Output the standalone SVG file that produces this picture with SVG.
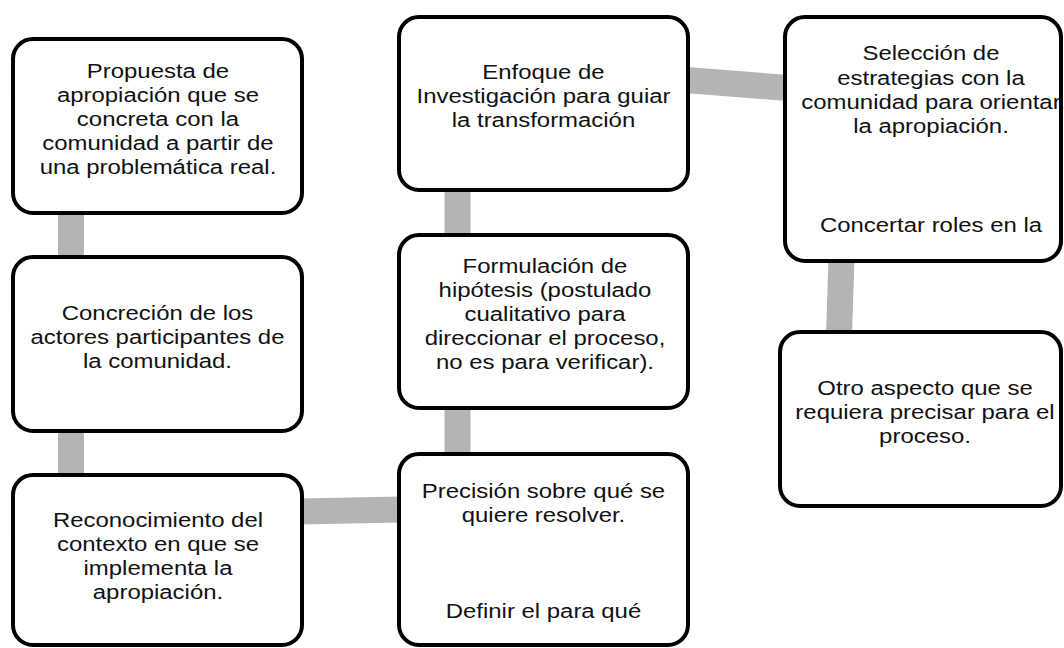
<svg xmlns="http://www.w3.org/2000/svg" width="1064" height="648" viewBox="0 0 1064 648">
<style>
.box{fill:#ffffff;stroke:#000000;stroke-width:4}
.conn{stroke:#b4b4b4;stroke-width:26;fill:none}
text{font-family:"Liberation Sans",Arial,sans-serif;font-size:21px;fill:#111111;text-anchor:middle}
</style>
<rect width="1064" height="648" fill="#ffffff"/>
<g id="connectors">
<line class="conn" x1="71" y1="210" x2="71" y2="260"/>
<line class="conn" x1="71" y1="428" x2="71" y2="478"/>
<line class="conn" x1="300" y1="511.5" x2="401" y2="509.5"/>
<line class="conn" x1="457.5" y1="405" x2="457.5" y2="457"/>
<line class="conn" x1="457.5" y1="187" x2="457.5" y2="238"/>
<line class="conn" x1="686" y1="80" x2="788" y2="88"/>
<line class="conn" x1="841.5" y1="258" x2="839" y2="335"/>
</g>
<g id="n1">
<rect class="box" x="13" y="39" width="289" height="174" rx="20"/>
<g transform="matrix(1.14,0,0,1,-22.12,0)">
<text x="158" y="78">Propuesta de</text>
<text x="158" y="102">apropiación que se</text>
<text x="158" y="126">concreta con la</text>
<text x="158" y="150">comunidad a partir de</text>
<text x="158" y="174">una problemática real.</text>
</g>
</g>
<g id="n2">
<rect class="box" x="13" y="257" width="289" height="174" rx="20"/>
<g transform="matrix(1.14,0,0,1,-22.05,0)">
<text x="157.5" y="320">Concreción de los</text>
<text x="157.5" y="344">actores participantes de</text>
<text x="157.5" y="368">la comunidad.</text>
</g>
</g>
<g id="n3">
<rect class="box" x="13" y="475" width="289" height="170" rx="20"/>
<g transform="matrix(1.14,0,0,1,-22.12,0)">
<text x="158" y="527">Reconocimiento del</text>
<text x="158" y="551">contexto en que se</text>
<text x="158" y="575">implementa la</text>
<text x="158" y="599">apropiación.</text>
</g>
</g>
<g id="n4">
<rect class="box" x="399" y="454" width="289" height="191" rx="20"/>
<g transform="matrix(1.14,0,0,1,-76.09,0)">
<text x="543.5" y="498">Precisión sobre qué se</text>
<text x="543.5" y="522">quiere resolver.</text>
<text x="543.5" y="618">Definir el para qué</text>
</g>
</g>
<g id="n5">
<rect class="box" x="399" y="235" width="289" height="173" rx="20"/>
<g transform="matrix(1.14,0,0,1,-76.3,0)">
<text x="545" y="273">Formulación de</text>
<text x="545" y="297">hipótesis (postulado</text>
<text x="545" y="321">cualitativo para</text>
<text x="545" y="345">direccionar el proceso,</text>
<text x="545" y="369">no es para verificar).</text>
</g>
</g>
<g id="n6">
<rect class="box" x="399" y="17" width="289" height="173" rx="20"/>
<g transform="matrix(1.14,0,0,1,-76.09,0)">
<text x="543.5" y="79">Enfoque de</text>
<text x="543.5" y="103">Investigación para guiar</text>
<text x="543.5" y="127">la transformación</text>
</g>
</g>
<g id="n7">
<rect class="box" x="785" y="17" width="276" height="244" rx="20"/>
<g transform="matrix(1.14,0,0,1,-130.34,0)">
<text x="931" y="60">Selección de</text>
<text x="931" y="85">estrategias con la</text>
<text x="931" y="109">comunidad para orientar</text>
<text x="931" y="133">la apropiación.</text>
<text x="931" y="232">Concertar roles en la</text>
</g>
</g>
<g id="n8">
<rect class="box" x="780" y="332" width="281" height="174" rx="20"/>
<g transform="matrix(1.14,0,0,1,-129.5,0)">
<text x="925" y="395">Otro aspecto que se</text>
<text x="925" y="419">requiera precisar para el</text>
<text x="925" y="443">proceso.</text>
</g>
</g>
</svg>
